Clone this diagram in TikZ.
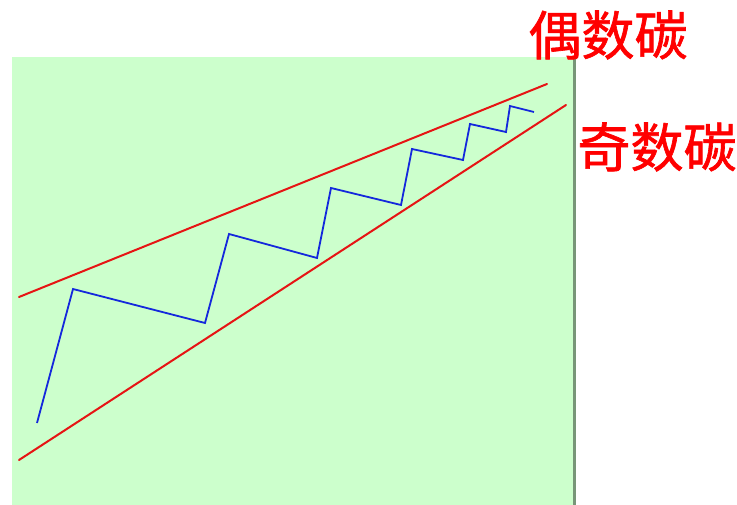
\documentclass[tikz,border=0pt]{standalone}
\usepackage{fontspec}
\newfontfamily\cjk[FakeBold=1.2]{Noto Sans CJK SC}
\usepackage{tikz}
\usetikzlibrary{positioning}
\definecolor{panelgreen}{RGB}{204,255,204}
\definecolor{paneledge}{RGB}{120,150,120}
\definecolor{chainblue}{RGB}{20,40,220}
\definecolor{boundred}{RGB}{230,20,20}

\begin{document}
\begin{tikzpicture}[
    x=1pt, y=-1pt,
    bound/.style={line width=2pt, boundred, line cap=round},
    chain/.style={line width=1.8pt, chainblue, line join=miter},
    tag/.style={font=\cjk\fontsize{53}{53}\selectfont, text=red, inner sep=0pt}
]
    \useasboundingbox (0,0) rectangle (737,505);
    \fill[panelgreen] (12,57) rectangle (574,505);
    \draw[paneledge, line width=3pt] (574,57) -- (574,505);

    % boundary lines
    \coordinate (ua) at (19,297);
    \coordinate (ub) at (547,84);
    \coordinate (la) at (19,460);
    \coordinate (lb) at (566,105);
    \draw[bound] (ua) -- (ub);
    \draw[bound] (la) -- (lb);

    % zigzag carbon chain
    \coordinate (c0) at (37,423);
    \coordinate (c1) at (73,289);
    \coordinate (c2) at (205,323);
    \coordinate (c3) at (229,234);
    \coordinate (c4) at (317,258);
    \coordinate (c5) at (331,188);
    \coordinate (c6) at (401,205);
    \coordinate (c7) at (412,149);
    \coordinate (c8) at (463,160);
    \coordinate (c9) at (470,124);
    \coordinate (c10) at (506,132);
    \coordinate (c11) at (510,106);
    \coordinate (c12) at (534,112);
    \draw[chain] (c0) -- (c1) -- (c2) -- (c3) -- (c4) -- (c5) -- (c6)
        -- (c7) -- (c8) -- (c9) -- (c10) -- (c11) -- (c12);

    \node[tag] (even) at (608,35) {偶数碳};
    \node[tag] (odd) at (657,147) {奇数碳};
\end{tikzpicture}
\end{document}
